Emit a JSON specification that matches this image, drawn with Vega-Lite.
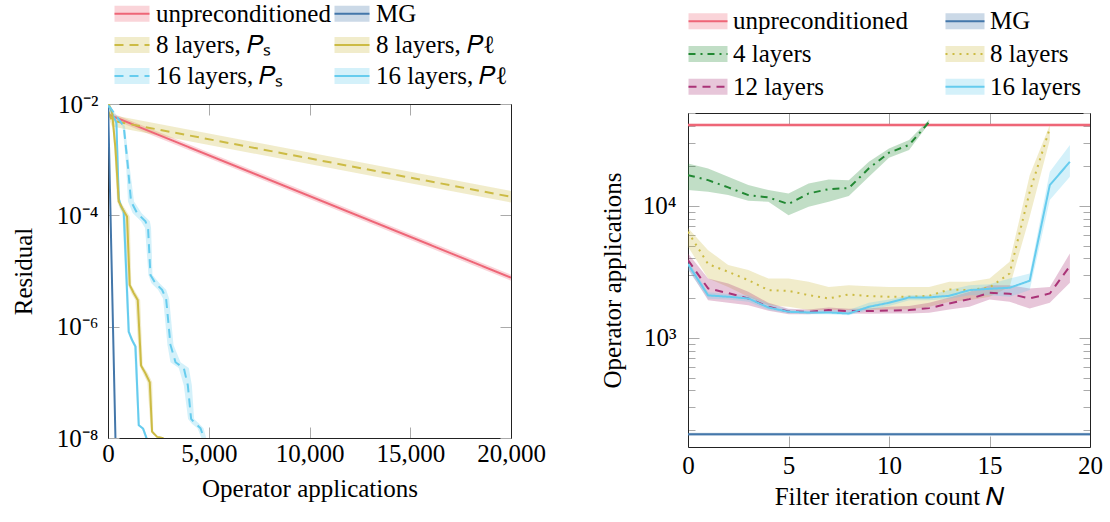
{
  "$schema": "https://vega.github.io/schema/vega-lite/v6.json",
  "padding": {"left": 11, "top": 1, "right": 5, "bottom": 5},
  "autosize": {"type": "pad"},
  "bounds": "flush",
  "spacing": 177,
  "datasets": {
    "L_vb": [
      {"s": "unpreconditioned", "x": 0, "y": 6.5e-3, "lo": 5.75e-3, "hi": 7.35e-3},
      {"s": "unpreconditioned", "x": 20000, "y": 7.6e-6, "lo": 6.7e-6, "hi": 8.6e-6},
      {"s": "8 layers, Ps", "x": 0, "y": 7.5e-3, "lo": 5.9e-3, "hi": 9.5e-3},
      {"s": "8 layers, Ps", "x": 200, "y": 5.0e-3, "lo": 3.95e-3, "hi": 6.35e-3},
      {"s": "8 layers, Ps", "x": 20000, "y": 2.15e-4, "lo": 1.7e-4, "hi": 2.73e-4}
    ],
    "L_hb": [
      {"s": "MG", "x": 0, "y": 1.2e-2, "xlo": -15, "xhi": 15},
      {"s": "MG", "x": 372, "y": 9e-9, "xlo": 357, "xhi": 387},
      {"s": "16 layers, Pl", "x": 0, "y": 1.0e-2, "xlo": -30, "xhi": 30},
      {"s": "16 layers, Pl", "x": 417, "y": 4.6e-3, "xlo": 367, "xhi": 467},
      {"s": "16 layers, Pl", "x": 532, "y": 2.0e-4, "xlo": 482, "xhi": 582},
      {"s": "16 layers, Pl", "x": 646, "y": 1.45e-4, "xlo": 576, "xhi": 716},
      {"s": "16 layers, Pl", "x": 780, "y": 1.17e-4, "xlo": 710, "xhi": 850},
      {"s": "16 layers, Pl", "x": 1029, "y": 8.1e-7, "xlo": 969, "xhi": 1089},
      {"s": "16 layers, Pl", "x": 1193, "y": 5.75e-7, "xlo": 1123, "xhi": 1263},
      {"s": "16 layers, Pl", "x": 1362, "y": 4.4e-7, "xlo": 1292, "xhi": 1432},
      {"s": "16 layers, Pl", "x": 1526, "y": 1.7e-8, "xlo": 1476, "xhi": 1576},
      {"s": "16 layers, Pl", "x": 1740, "y": 1.48e-8, "xlo": 1680, "xhi": 1800},
      {"s": "16 layers, Pl", "x": 1908, "y": 1.0e-8, "xlo": 1848, "xhi": 1968},
      {"s": "16 layers, Pl", "x": 1990, "y": 8.0e-9, "xlo": 1930, "xhi": 2050},
      {"s": "8 layers, Pl", "x": 0, "y": 1.05e-2, "xlo": -30, "xhi": 30},
      {"s": "8 layers, Pl", "x": 199, "y": 7.4e-3, "xlo": 159, "xhi": 239},
      {"s": "8 layers, Pl", "x": 368, "y": 1.6e-3, "xlo": 308, "xhi": 428},
      {"s": "8 layers, Pl", "x": 532, "y": 1.78e-4, "xlo": 452, "xhi": 612},
      {"s": "8 layers, Pl", "x": 746, "y": 1.26e-4, "xlo": 616, "xhi": 876},
      {"s": "8 layers, Pl", "x": 945, "y": 9.5e-5, "xlo": 815, "xhi": 1075},
      {"s": "8 layers, Pl", "x": 1078, "y": 5.6e-6, "xlo": 998, "xhi": 1158},
      {"s": "8 layers, Pl", "x": 1277, "y": 4.0e-6, "xlo": 1157, "xhi": 1397},
      {"s": "8 layers, Pl", "x": 1476, "y": 3.0e-6, "xlo": 1356, "xhi": 1596},
      {"s": "8 layers, Pl", "x": 1641, "y": 2.0e-7, "xlo": 1561, "xhi": 1721},
      {"s": "8 layers, Pl", "x": 1858, "y": 1.45e-7, "xlo": 1738, "xhi": 1978},
      {"s": "8 layers, Pl", "x": 2073, "y": 1.0e-7, "xlo": 1953, "xhi": 2193},
      {"s": "8 layers, Pl", "x": 2187, "y": 1.3e-8, "xlo": 2127, "xhi": 2247},
      {"s": "8 layers, Pl", "x": 2435, "y": 1.05e-8, "xlo": 2375, "xhi": 2495},
      {"s": "8 layers, Pl", "x": 2700, "y": 1.0e-8, "xlo": 2640, "xhi": 2760},
      {"s": "8 layers, Pl", "x": 2800, "y": 9.5e-9, "xlo": 2740, "xhi": 2860},
      {"s": "16 layers, Ps", "x": 0, "y": 9.5e-3, "xlo": -30, "xhi": 30},
      {"s": "16 layers, Ps", "x": 119, "y": 8.5e-3, "xlo": 79, "xhi": 159},
      {"s": "16 layers, Ps", "x": 780, "y": 4.0e-3, "xlo": 720, "xhi": 840},
      {"s": "16 layers, Ps", "x": 979, "y": 8.1e-4, "xlo": 899, "xhi": 1059},
      {"s": "16 layers, Ps", "x": 1143, "y": 1.78e-4, "xlo": 993, "xhi": 1293},
      {"s": "16 layers, Ps", "x": 1442, "y": 1.1e-4, "xlo": 1222, "xhi": 1662},
      {"s": "16 layers, Ps", "x": 1858, "y": 7.8e-5, "xlo": 1638, "xhi": 2078},
      {"s": "16 layers, Ps", "x": 1988, "y": 5.9e-5, "xlo": 1838, "xhi": 2138},
      {"s": "16 layers, Ps", "x": 2107, "y": 8.5e-6, "xlo": 2007, "xhi": 2207},
      {"s": "16 layers, Ps", "x": 2356, "y": 6.0e-6, "xlo": 2156, "xhi": 2556},
      {"s": "16 layers, Ps", "x": 2684, "y": 4.6e-6, "xlo": 2484, "xhi": 2884},
      {"s": "16 layers, Ps", "x": 2883, "y": 3.2e-6, "xlo": 2733, "xhi": 3033},
      {"s": "16 layers, Ps", "x": 3101, "y": 4.7e-7, "xlo": 2951, "xhi": 3251},
      {"s": "16 layers, Ps", "x": 3350, "y": 2.3e-7, "xlo": 3100, "xhi": 3600},
      {"s": "16 layers, Ps", "x": 3762, "y": 1.8e-7, "xlo": 3512, "xhi": 4012},
      {"s": "16 layers, Ps", "x": 3961, "y": 8.9e-8, "xlo": 3761, "xhi": 4161},
      {"s": "16 layers, Ps", "x": 4125, "y": 2.2e-8, "xlo": 3975, "xhi": 4275},
      {"s": "16 layers, Ps", "x": 4344, "y": 1.8e-8, "xlo": 4164, "xhi": 4524},
      {"s": "16 layers, Ps", "x": 4592, "y": 1.5e-8, "xlo": 4442, "xhi": 4742},
      {"s": "16 layers, Ps", "x": 4756, "y": 1.0e-8, "xlo": 4636, "xhi": 4876},
      {"s": "16 layers, Ps", "x": 4850, "y": 9.0e-9, "xlo": 4730, "xhi": 4970}
    ],
    "L_leg": [
      {"s": "unpreconditioned", "label": "unpreconditioned", "col": 0, "row": 0},
      {"s": "MG", "label": "MG", "col": 1, "row": 0},
      {"s": "8 layers, Ps", "label": "8 layers, 𝑃ₛ", "col": 0, "row": 1},
      {"s": "8 layers, Pl", "label": "8 layers, 𝑃ℓ", "col": 1, "row": 1},
      {"s": "16 layers, Ps", "label": "16 layers, 𝑃ₛ", "col": 0, "row": 2},
      {"s": "16 layers, Pl", "label": "16 layers, 𝑃ℓ", "col": 1, "row": 2}
    ],
    "R": [
      {"s": "unpreconditioned", "N": 0, "y": 40800, "lo": 39400, "hi": 42300},
      {"s": "unpreconditioned", "N": 20, "y": 40800, "lo": 39400, "hi": 42300},
      {"s": "MG", "N": 0, "y": 186, "lo": 181, "hi": 191},
      {"s": "MG", "N": 20, "y": 186, "lo": 181, "hi": 191},
      {"s": "4 layers", "N": 0, "y": 17060, "lo": 13150, "hi": 20930},
      {"s": "4 layers", "N": 1, "y": 15630, "lo": 12760, "hi": 19190},
      {"s": "4 layers", "N": 2, "y": 13770, "lo": 12050, "hi": 16600},
      {"s": "4 layers", "N": 3, "y": 12050, "lo": 10900, "hi": 14350},
      {"s": "4 layers", "N": 4, "y": 11570, "lo": 10720, "hi": 13150},
      {"s": "4 layers", "N": 5, "y": 10300, "lo": 8490, "hi": 12390},
      {"s": "4 layers", "N": 6, "y": 12390, "lo": 9820, "hi": 14760},
      {"s": "4 layers", "N": 7, "y": 13360, "lo": 10720, "hi": 15810},
      {"s": "4 layers", "N": 8, "y": 13610, "lo": 11830, "hi": 15630},
      {"s": "4 layers", "N": 9, "y": 19190, "lo": 16600, "hi": 21540},
      {"s": "4 layers", "N": 10, "y": 25230, "lo": 23130, "hi": 27180},
      {"s": "4 layers", "N": 11, "y": 28860, "lo": 26440, "hi": 31420},
      {"s": "4 layers", "N": 12, "y": 43250, "lo": 42070, "hi": 45080},
      {"s": "8 layers", "N": 0, "y": 6350, "lo": 4900, "hi": 6800},
      {"s": "8 layers", "N": 1, "y": 3615, "lo": 2810, "hi": 4610},
      {"s": "8 layers", "N": 2, "y": 3160, "lo": 2430, "hi": 3560},
      {"s": "8 layers", "N": 3, "y": 2735, "lo": 2047, "hi": 3260},
      {"s": "8 layers", "N": 4, "y": 2297, "lo": 1766, "hi": 2810},
      {"s": "8 layers", "N": 5, "y": 2270, "lo": 1718, "hi": 2810},
      {"s": "8 layers", "N": 6, "y": 2105, "lo": 1621, "hi": 2655},
      {"s": "8 layers", "N": 7, "y": 1987, "lo": 1621, "hi": 2430},
      {"s": "8 layers", "N": 8, "y": 2130, "lo": 1621, "hi": 2505},
      {"s": "8 layers", "N": 9, "y": 2068, "lo": 1621, "hi": 2462},
      {"s": "8 layers", "N": 10, "y": 2045, "lo": 1641, "hi": 2430},
      {"s": "8 layers", "N": 11, "y": 2045, "lo": 1641, "hi": 2430},
      {"s": "8 layers", "N": 12, "y": 2080, "lo": 1718, "hi": 2430},
      {"s": "8 layers", "N": 13, "y": 2323, "lo": 1875, "hi": 2655},
      {"s": "8 layers", "N": 14, "y": 2297, "lo": 1928, "hi": 2655},
      {"s": "8 layers", "N": 15, "y": 2404, "lo": 2047, "hi": 2810},
      {"s": "8 layers", "N": 16, "y": 3070, "lo": 2430, "hi": 3770},
      {"s": "8 layers", "N": 17, "y": 12760, "lo": 8260, "hi": 17060},
      {"s": "8 layers", "N": 18, "y": 38550, "lo": 31420, "hi": 40800},
      {"s": "12 layers", "N": 0, "y": 3875, "lo": 3350, "hi": 4355},
      {"s": "12 layers", "N": 1, "y": 2365, "lo": 1928, "hi": 2810},
      {"s": "12 layers", "N": 2, "y": 2180, "lo": 1842, "hi": 2583},
      {"s": "12 layers", "N": 3, "y": 1987, "lo": 1766, "hi": 2229},
      {"s": "12 layers", "N": 4, "y": 1718, "lo": 1602, "hi": 1842},
      {"s": "12 layers", "N": 5, "y": 1583, "lo": 1511, "hi": 1659},
      {"s": "12 layers", "N": 6, "y": 1574, "lo": 1511, "hi": 1641},
      {"s": "12 layers", "N": 7, "y": 1621, "lo": 1546, "hi": 1698},
      {"s": "12 layers", "N": 8, "y": 1593, "lo": 1528, "hi": 1659},
      {"s": "12 layers", "N": 9, "y": 1593, "lo": 1520, "hi": 1670},
      {"s": "12 layers", "N": 10, "y": 1611, "lo": 1528, "hi": 1718},
      {"s": "12 layers", "N": 11, "y": 1621, "lo": 1528, "hi": 1738},
      {"s": "12 layers", "N": 12, "y": 1678, "lo": 1546, "hi": 1842},
      {"s": "12 layers", "N": 13, "y": 1820, "lo": 1641, "hi": 2023},
      {"s": "12 layers", "N": 14, "y": 1963, "lo": 1718, "hi": 2229},
      {"s": "12 layers", "N": 15, "y": 2193, "lo": 1950, "hi": 2505},
      {"s": "12 layers", "N": 16, "y": 2155, "lo": 1875, "hi": 2505},
      {"s": "12 layers", "N": 17, "y": 1987, "lo": 1667, "hi": 2365},
      {"s": "12 layers", "N": 18, "y": 2166, "lo": 1842, "hi": 2430},
      {"s": "12 layers", "N": 19, "y": 3490, "lo": 2610, "hi": 4355},
      {"s": "16 layers", "N": 0, "y": 3615, "lo": 3260, "hi": 3875},
      {"s": "16 layers", "N": 1, "y": 2095, "lo": 1972, "hi": 2218},
      {"s": "16 layers", "N": 2, "y": 2047, "lo": 1950, "hi": 2143},
      {"s": "16 layers", "N": 3, "y": 1987, "lo": 1875, "hi": 2105},
      {"s": "16 layers", "N": 4, "y": 1698, "lo": 1621, "hi": 1820},
      {"s": "16 layers", "N": 5, "y": 1574, "lo": 1528, "hi": 1641},
      {"s": "16 layers", "N": 6, "y": 1556, "lo": 1511, "hi": 1602},
      {"s": "16 layers", "N": 7, "y": 1556, "lo": 1511, "hi": 1621},
      {"s": "16 layers", "N": 8, "y": 1528, "lo": 1485, "hi": 1621},
      {"s": "16 layers", "N": 9, "y": 1718, "lo": 1621, "hi": 1842},
      {"s": "16 layers", "N": 10, "y": 1842, "lo": 1738, "hi": 1950},
      {"s": "16 layers", "N": 11, "y": 2023, "lo": 1928, "hi": 2105},
      {"s": "16 layers", "N": 12, "y": 2023, "lo": 1928, "hi": 2105},
      {"s": "16 layers", "N": 13, "y": 2081, "lo": 1972, "hi": 2297},
      {"s": "16 layers", "N": 14, "y": 2297, "lo": 2105, "hi": 2505},
      {"s": "16 layers", "N": 15, "y": 2350, "lo": 2105, "hi": 2548},
      {"s": "16 layers", "N": 16, "y": 2393, "lo": 2047, "hi": 2810},
      {"s": "16 layers", "N": 17, "y": 2704, "lo": 2297, "hi": 3070},
      {"s": "16 layers", "N": 18, "y": 14350, "lo": 11040, "hi": 18110},
      {"s": "16 layers", "N": 19, "y": 21530, "lo": 16600, "hi": 28860}
    ],
    "R_leg": [
      {"s": "unpreconditioned", "label": "unpreconditioned", "col": 0, "row": 0},
      {"s": "MG", "label": "MG", "col": 1, "row": 0},
      {"s": "4 layers", "label": "4 layers", "col": 0, "row": 1},
      {"s": "8 layers", "label": "8 layers", "col": 1, "row": 1},
      {"s": "12 layers", "label": "12 layers", "col": 0, "row": 2},
      {"s": "16 layers", "label": "16 layers", "col": 1, "row": 2}
    ]
  },
  "hconcat": [
    {
      "width": 403,
      "height": 334,
      "layer": [
        {
          "layer": [
            {
              "data": {"name": "L_vb"},
              "mark": {"type": "area", "opacity": 0.28, "clip": true},
              "encoding": {
                "x": {"field": "x", "type": "quantitative", "scale": {"domain": [0, 20000], "nice": false, "zero": false},
                  "axis": {"orient": "bottom", "values": [0, 5000, 10000, 15000, 20000], "format": ",d", "title": "Operator applications", "tickSize": -11, "labelPadding": 34.7, "labelBaseline": "alphabetic", "titleY": 58.5, "titleBaseline": "alphabetic"}},
                "y": {"field": "lo", "type": "quantitative", "scale": {"type": "log", "domain": [1e-8, 1e-2], "nice": false},
                  "axis": {"orient": "left", "values": [1e-8, 1e-6, 1e-4, 1e-2], "labelExpr": "datum.value < 1e-7 ? '10⁻⁸' : datum.value < 1e-5 ? '10⁻⁶' : datum.value < 1e-3 ? '10⁻⁴' : '10⁻²'", "title": "Residual", "tickSize": -11, "labelPadding": 21, "titleX": -72}},
                "y2": {"field": "hi"},
                "color": {"field": "s", "type": "nominal", "legend": null, "scale": {"domain": ["unpreconditioned", "MG", "8 layers, Ps", "8 layers, Pl", "16 layers, Ps", "16 layers, Pl"], "range": ["#EE6677", "#4477AA", "#CCBB44", "#CCBB44", "#66CCEE", "#66CCEE"]}}
              }
            },
            {
              "data": {"name": "L_hb"},
              "mark": {"type": "area", "orient": "horizontal", "opacity": 0.28, "clip": true},
              "encoding": {
                "y": {"field": "y", "type": "quantitative", "scale": {"type": "log", "domain": [1e-8, 1e-2], "nice": false}, "axis": null},
                "x": {"field": "xlo", "type": "quantitative", "scale": {"domain": [0, 20000], "nice": false, "zero": false}, "axis": null},
                "x2": {"field": "xhi"},
                "color": {"field": "s", "type": "nominal", "legend": null, "scale": {"domain": ["unpreconditioned", "MG", "8 layers, Ps", "8 layers, Pl", "16 layers, Ps", "16 layers, Pl"], "range": ["#EE6677", "#4477AA", "#CCBB44", "#CCBB44", "#66CCEE", "#66CCEE"]}}
              }
            },
            {
              "data": {"name": "L_vb"},
              "mark": {"type": "line", "strokeWidth": 2, "clip": true},
              "encoding": {
                "x": {"field": "x", "type": "quantitative", "scale": {"domain": [0, 20000], "nice": false, "zero": false},
                  "axis": {"orient": "top", "values": [0, 5000, 10000, 15000, 20000], "labels": false, "title": null, "tickSize": -11}},
                "y": {"field": "y", "type": "quantitative", "scale": {"type": "log", "domain": [1e-8, 1e-2], "nice": false},
                  "axis": {"orient": "right", "values": [1e-8, 1e-6, 1e-4, 1e-2], "labels": false, "title": null, "tickSize": -11}},
                "color": {"field": "s", "type": "nominal", "legend": null, "scale": {"domain": ["unpreconditioned", "MG", "8 layers, Ps", "8 layers, Pl", "16 layers, Ps", "16 layers, Pl"], "range": ["#EE6677", "#4477AA", "#CCBB44", "#CCBB44", "#66CCEE", "#66CCEE"]}},
                "strokeDash": {"field": "s", "type": "nominal", "legend": null, "scale": {"domain": ["unpreconditioned", "MG", "8 layers, Ps", "8 layers, Pl", "16 layers, Ps", "16 layers, Pl"], "range": [[1, 0], [1, 0], [9, 6], [1, 0], [9, 6], [1, 0]]}}
              }
            },
            {
              "data": {"name": "L_hb"},
              "mark": {"type": "line", "strokeWidth": 2, "clip": true},
              "encoding": {
                "x": {"field": "x", "type": "quantitative", "scale": {"domain": [0, 20000], "nice": false, "zero": false}, "axis": null},
                "y": {"field": "y", "type": "quantitative", "scale": {"type": "log", "domain": [1e-8, 1e-2], "nice": false}, "axis": null},
                "color": {"field": "s", "type": "nominal", "legend": null, "scale": {"domain": ["unpreconditioned", "MG", "8 layers, Ps", "8 layers, Pl", "16 layers, Ps", "16 layers, Pl"], "range": ["#EE6677", "#4477AA", "#CCBB44", "#CCBB44", "#66CCEE", "#66CCEE"]}},
                "strokeDash": {"field": "s", "type": "nominal", "legend": null, "scale": {"domain": ["unpreconditioned", "MG", "8 layers, Ps", "8 layers, Pl", "16 layers, Ps", "16 layers, Pl"], "range": [[1, 0], [1, 0], [9, 6], [1, 0], [9, 6], [1, 0]]}}
              }
            }
          ],
          "resolve": {"axis": {"x": "independent", "y": "independent"}}
        },
        {
          "data": {"name": "L_leg"},
          "encoding": {
            "x": {"field": "col", "type": "quantitative", "scale": {"domain": [0, 1], "range": [24, 244]}, "axis": null},
            "y": {"field": "row", "type": "quantitative", "scale": {"domain": [0, 2], "range": [-90.2, -28]}, "axis": null},
            "color": {"field": "s", "type": "nominal", "legend": null, "scale": {"domain": ["unpreconditioned", "MG", "8 layers, Ps", "8 layers, Pl", "16 layers, Ps", "16 layers, Pl"], "range": ["#EE6677", "#4477AA", "#CCBB44", "#CCBB44", "#66CCEE", "#66CCEE"]}}
          },
          "layer": [
            {"mark": {"type": "point", "shape": "M-1,-0.457H1V0.457H-1Z", "size": 1225, "filled": true, "opacity": 0.28, "strokeWidth": 0}},
            {"mark": {"type": "point", "shape": "stroke", "size": 1225, "filled": false, "opacity": 1, "strokeWidth": 2},
             "encoding": {"strokeDash": {"field": "s", "type": "nominal", "legend": null, "scale": {"domain": ["unpreconditioned", "MG", "8 layers, Ps", "8 layers, Pl", "16 layers, Ps", "16 layers, Pl"], "range": [[1, 0], [1, 0], [9, 6], [1, 0], [9, 6], [1, 0]]}}}},
            {"mark": {"type": "text", "align": "left", "baseline": "middle", "dx": 24, "font": "Liberation Serif", "fontSize": 25, "color": "#000"},
             "encoding": {"text": {"field": "label"}, "color": {"value": "#000"}}}
          ]
        }
      ],
      "resolve": {"scale": {"x": "independent", "y": "independent"}}
    },
    {
      "width": 402,
      "height": 343,
      "layer": [
        {
          "layer": [
            {
              "data": {"name": "R"},
              "mark": {"type": "area", "opacity": 0.28, "clip": true},
              "encoding": {
                "x": {"field": "N", "type": "quantitative", "scale": {"domain": [0, 20], "nice": false, "zero": false},
                  "axis": {"orient": "bottom", "values": [0, 5, 10, 15, 20], "format": "d", "title": "Filter iteration count 𝑁", "tickSize": -11, "labelPadding": 37.3, "labelBaseline": "alphabetic", "titleY": 57.6, "titleBaseline": "alphabetic"}},
                "y": {"field": "lo", "type": "quantitative", "scale": {"type": "log", "domain": [149, 50400], "nice": false, "range": [343, 9]},
                  "axis": {"orient": "left", "values": [200, 300, 400, 500, 600, 700, 800, 900, 1000, 2000, 3000, 4000, 5000, 6000, 7000, 8000, 9000, 10000, 20000, 30000, 40000, 50000], "labelExpr": "datum.value == 1000 ? '10³' : datum.value == 10000 ? '10⁴' : ''", "tickSize": {"condition": {"test": "datum.value == 1000 || datum.value == 10000", "value": -11}, "value": -7}, "title": "Operator applications", "labelPadding": 23, "titleX": -63}},
                "y2": {"field": "hi"},
                "color": {"field": "s", "type": "nominal", "legend": null, "scale": {"domain": ["unpreconditioned", "MG", "4 layers", "8 layers", "12 layers", "16 layers"], "range": ["#EE6677", "#4477AA", "#228833", "#CCBB44", "#AA3377", "#66CCEE"]}}
              }
            },
            {
              "data": {"name": "R"},
              "mark": {"type": "line", "strokeWidth": 2, "clip": true},
              "encoding": {
                "x": {"field": "N", "type": "quantitative", "scale": {"domain": [0, 20], "nice": false, "zero": false},
                  "axis": {"orient": "top", "values": [0, 5, 10, 15, 20], "labels": false, "title": null, "tickSize": -11, "offset": -9}},
                "y": {"field": "y", "type": "quantitative", "scale": {"type": "log", "domain": [149, 50400], "nice": false, "range": [343, 9]},
                  "axis": {"orient": "right", "values": [200, 300, 400, 500, 600, 700, 800, 900, 1000, 2000, 3000, 4000, 5000, 6000, 7000, 8000, 9000, 10000, 20000, 30000, 40000, 50000], "labels": false, "title": null, "tickSize": {"condition": {"test": "datum.value == 1000 || datum.value == 10000", "value": -11}, "value": -7}}},
                "color": {"field": "s", "type": "nominal", "legend": null, "scale": {"domain": ["unpreconditioned", "MG", "4 layers", "8 layers", "12 layers", "16 layers"], "range": ["#EE6677", "#4477AA", "#228833", "#CCBB44", "#AA3377", "#66CCEE"]}},
                "strokeDash": {"field": "s", "type": "nominal", "legend": null, "scale": {"domain": ["unpreconditioned", "MG", "4 layers", "8 layers", "12 layers", "16 layers"], "range": [[1, 0], [1, 0], [7, 5, 2, 5], [2, 5], [8, 6], [1, 0]]}}
              }
            }
          ],
          "resolve": {"axis": {"x": "independent", "y": "independent"}}
        },
        {
          "data": {"name": "R_leg"},
          "encoding": {
            "x": {"field": "col", "type": "quantitative", "scale": {"domain": [0, 1], "range": [20, 277]}, "axis": null},
            "y": {"field": "row", "type": "quantitative", "scale": {"domain": [0, 2], "range": [-82.7, -17.3]}, "axis": null},
            "color": {"field": "s", "type": "nominal", "legend": null, "scale": {"domain": ["unpreconditioned", "MG", "4 layers", "8 layers", "12 layers", "16 layers"], "range": ["#EE6677", "#4477AA", "#228833", "#CCBB44", "#AA3377", "#66CCEE"]}}
          },
          "layer": [
            {"mark": {"type": "point", "shape": "M-1,-0.41H1V0.41H-1Z", "size": 1521, "filled": true, "opacity": 0.28, "strokeWidth": 0}},
            {"mark": {"type": "point", "shape": "stroke", "size": 1521, "filled": false, "opacity": 1, "strokeWidth": 2},
             "encoding": {"strokeDash": {"field": "s", "type": "nominal", "legend": null, "scale": {"domain": ["unpreconditioned", "MG", "4 layers", "8 layers", "12 layers", "16 layers"], "range": [[1, 0], [1, 0], [7, 5, 2, 5], [2, 5], [8, 6], [1, 0]]}}}},
            {"mark": {"type": "text", "align": "left", "baseline": "middle", "dx": 25, "font": "Liberation Serif", "fontSize": 25},
             "encoding": {"text": {"field": "label"}, "color": {"value": "#000"}}}
          ]
        }
      ],
      "resolve": {"scale": {"x": "independent", "y": "independent"}}
    }
  ],
  "resolve": {"scale": {"color": "independent", "strokeDash": "independent"}},
  "config": {
    "view": {"stroke": null},
    "font": "Liberation Serif",
    "legend": {"disable": true},
    "axis": {
      "labelFont": "Liberation Serif", "labelFontSize": 25, "labelColor": "#000",
      "titleFont": "Liberation Serif", "titleFontSize": 25, "titleFontWeight": "normal", "titleColor": "#000",
      "domainColor": "#222", "domainWidth": 1, "tickColor": "#aaaaaa", "tickWidth": 1,
      "grid": false, "labelFlush": false, "labelOverlap": false, "labelBound": false
    }
  }
}
